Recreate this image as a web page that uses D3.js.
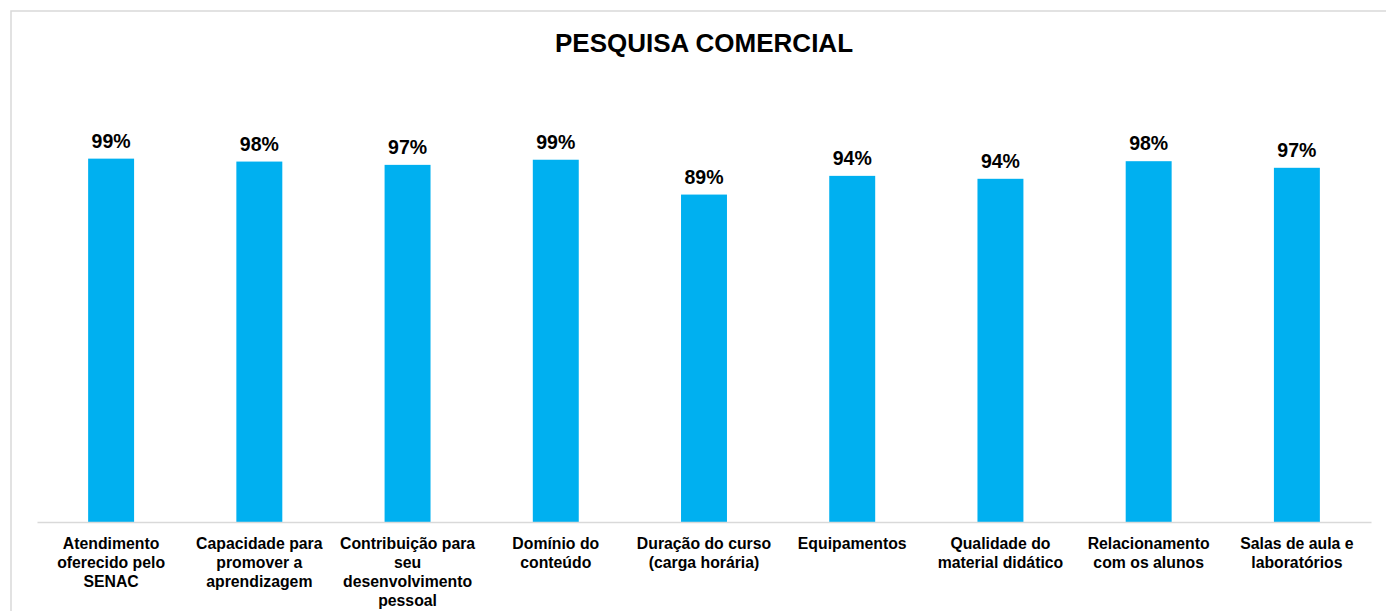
<!DOCTYPE html>
<html>
<head>
<meta charset="utf-8">
<script src="https://cdn.jsdelivr.net/npm/d3@7"></script>
<style>
  body { margin: 0; background: #fff; }
  text { font-family: "Liberation Sans", Arial, sans-serif; font-weight: bold; fill: #000; }
</style>
</head>
<body>
<div id="chart"></div>
<script>
const title = "PESQUISA COMERCIAL";

const categories = [
    ["Atendimento", "oferecido pelo", "SENAC"],
    ["Capacidade para", "promover a", "aprendizagem"],
    ["Contribuição para", "seu", "desenvolvimento", "pessoal"],
    ["Domínio do", "conteúdo"],
    ["Duração do curso", "(carga horária)"],
    ["Equipamentos"],
    ["Qualidade do", "material didático"],
    ["Relacionamento", "com os alunos"],
    ["Salas de aula e", "laboratórios"]
];

const values = [0.991, 0.983, 0.974, 0.988, 0.893, 0.944, 0.936, 0.984, 0.966];

const width = 1386;
const height = 611;
const margin = { top: 82, right: 15, bottom: 89, left: 37 };

const svg = d3.select("#chart")
    .append("svg")
    .attr("width", width)
    .attr("height", height);

// chart area border (runs off the right and bottom edges)
svg.append("rect")
    .attr("x", 11)
    .attr("y", 11)
    .attr("width", 1420)
    .attr("height", 700)
    .attr("fill", "none")
    .attr("stroke", "#d9d9d9")
    .attr("stroke-width", 1.5);

svg.append("text")
    .attr("x", 704)
    .attr("y", 52)
    .attr("text-anchor", "middle")
    .style("font-size", "26px")
    .text(title);

const x = d3.scaleBand()
    .domain(d3.range(categories.length))
    .range([margin.left, width - margin.right])
    .paddingInner(0.69)
    .paddingOuter(0.345);

const y = d3.scaleLinear()
    .domain([0, 1.2])
    .range([height - margin.bottom, margin.top]);

const fmt = d3.format(".0%");

svg.selectAll("rect.bar")
    .data(values)
    .join("rect")
    .attr("class", "bar")
    .attr("x", (d, i) => x(i))
    .attr("y", d => y(d))
    .attr("width", x.bandwidth())
    .attr("height", d => y(0) - y(d))
    .attr("fill", "#00b0f0");

svg.selectAll("text.value")
    .data(values)
    .join("text")
    .attr("class", "value")
    .attr("x", (d, i) => x(i) + x.bandwidth() / 2)
    .attr("y", d => y(d) - 11)
    .attr("text-anchor", "middle")
    .style("font-size", "19.5px")
    .text(d => fmt(d));

// x axis with wrapped category labels
const xAxis = svg.append("g")
    .attr("transform", `translate(0, ${y(0)})`)
    .call(d3.axisBottom(x).tickSize(0).tickFormat(""));

xAxis.select(".domain")
    .attr("stroke", "#d9d9d9")
    .attr("stroke-width", 1.5);

xAxis.selectAll(".tick")
    .append("text")
    .attr("text-anchor", "middle")
    .style("font-size", "15.8px")
    .selectAll("tspan")
    .data(i => categories[i])
    .join("tspan")
    .attr("x", 0)
    .attr("y", (d, j) => 27 + j * 19)
    .text(d => d);
</script>
</body>
</html>
